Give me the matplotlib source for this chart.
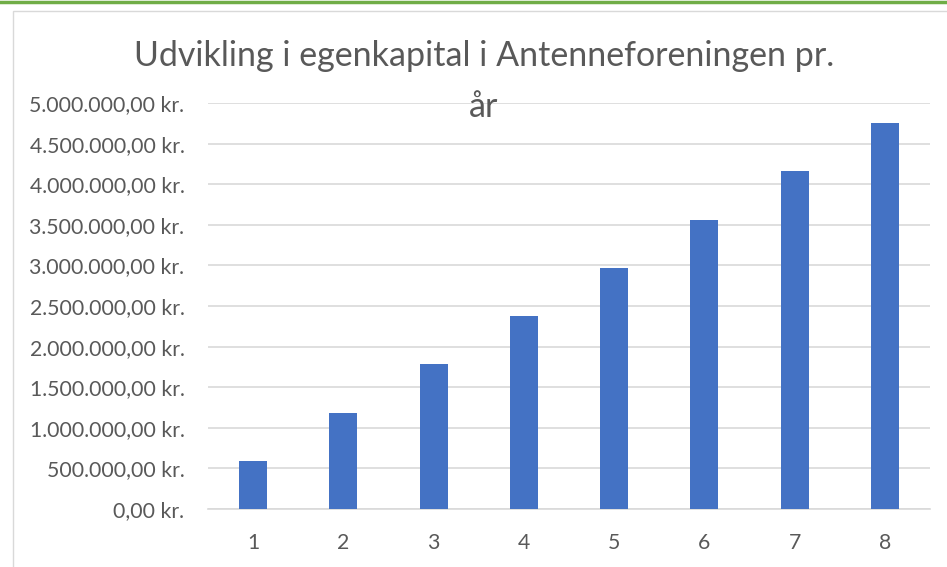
import matplotlib.pyplot as plt
from matplotlib.ticker import FuncFormatter
from matplotlib.patches import Rectangle
from matplotlib.lines import Line2D

aar = [1, 2, 3, 4, 5, 6, 7, 8]
egenkapital = [594000, 1188000, 1782000, 2376000, 2970000, 3564000, 4158000, 4752000]
titel_linjer = ["Udvikling i egenkapital i Antenneforeningen pr.", "år"]

plt.rcParams['font.family'] = ['Lato', 'DejaVu Sans']

fig = plt.figure(figsize=(9.47, 5.67), dpi=100)

# ramme og grøn linje øverst
fig.add_artist(Line2D([0, 1], [1 - 1.5 / 567, 1 - 1.5 / 567], color='#70ad47', lw=2.5))
fig.add_artist(Rectangle((13 / 947, -0.01), 1.0, 1 - 11 / 567 + 0.01, fill=False,
                         edgecolor='#d9d9d9', lw=1.0))

ax = fig.add_axes([208 / 947, 1 - 509 / 567, (930 - 208) / 947, (509 - 103) / 567])
ax.bar(aar, egenkapital, width=0.31, color='#4472c4', zorder=3)
ax.set_xlim(0.5, 8.5)
ax.set_ylim(0, 5000000)
ax.set_yticks(range(0, 5000001, 500000))
ax.set_xticks(aar)


def kr(v, pos):
    s = f"{v:,.2f}".replace(",", "X").replace(".", ",").replace("X", ".")
    return s + " kr."


ax.yaxis.set_major_formatter(FuncFormatter(kr))
ax.grid(axis='y', color='#d9d9d9', lw=1.2, zorder=0)
for s in ['top', 'right', 'left']:
    ax.spines[s].set_visible(False)
ax.spines['bottom'].set_color('#d9d9d9')
ax.spines['bottom'].set_linewidth(1.2)
ax.tick_params(length=0, labelsize=15.3, colors='#595959')
ax.tick_params(axis='y', pad=17)
ax.tick_params(axis='x', pad=17)

# titlen i to linjer, som i Excel
for linje, y_px in zip(titel_linjer, [66, 117]):
    fig.text(484 / 947, 1 - y_px / 567, linje, ha='center', va='baseline',
             fontsize=24.5, color='#595959')

fig.savefig('out.png', dpi=100)
